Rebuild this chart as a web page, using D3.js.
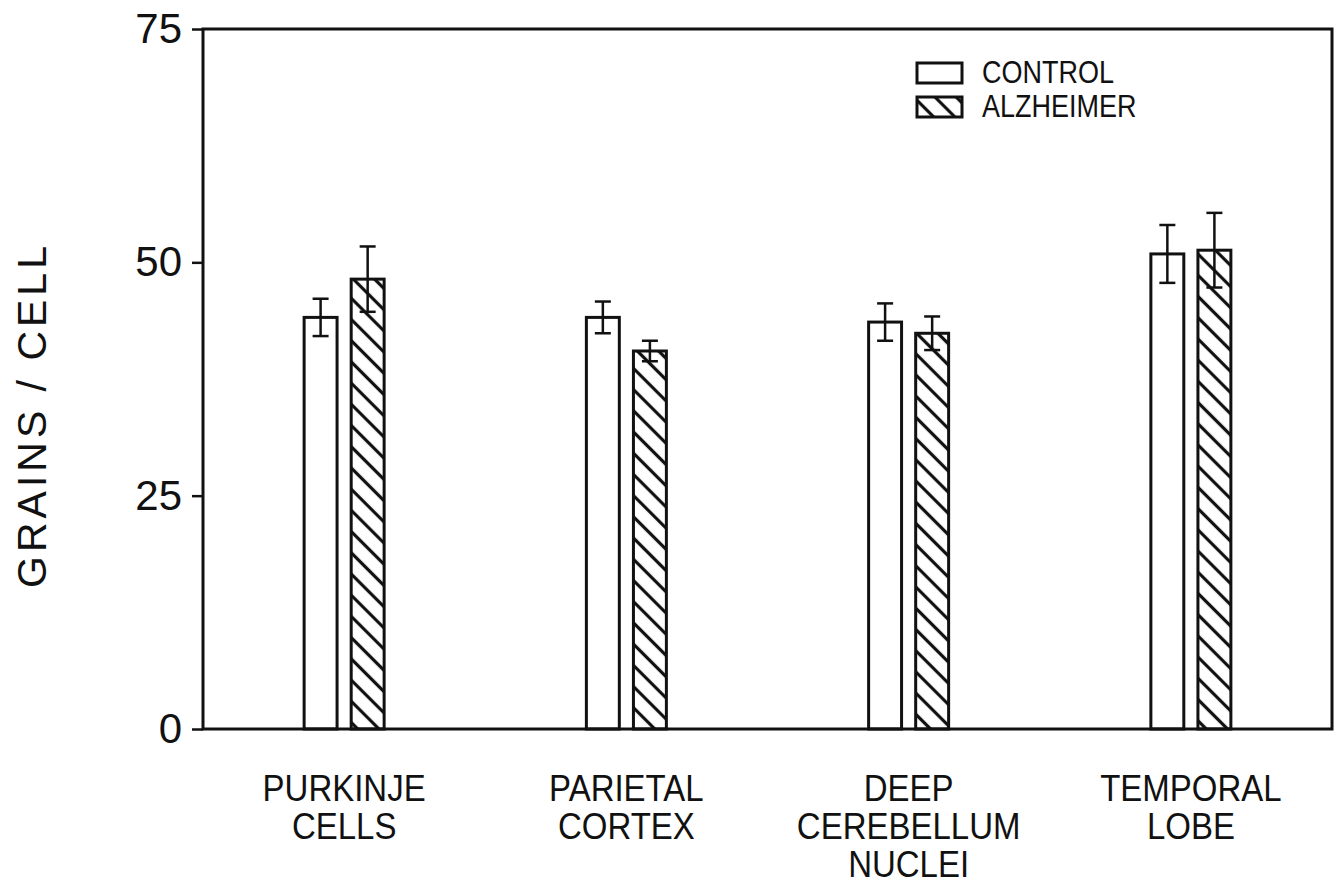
<!DOCTYPE html>
<html>
<head>
<meta charset="utf-8">
<script src="https://cdn.jsdelivr.net/npm/d3@7"></script>
<style>
  html, body { margin: 0; padding: 0; background: #fff; }
  svg { display: block; }
  text { font-family: "Liberation Sans", Arial, Helvetica, sans-serif; fill: #111; }
</style>
</head>
<body>
<svg id="chart" width="1342" height="886"></svg>
<script>
// ---- data ----
const categories = ["PURKINJE CELLS", "PARIETAL CORTEX", "DEEP CEREBELLUM NUCLEI", "TEMPORAL LOBE"];
const categoryLines = [["PURKINJE", "CELLS"], ["PARIETAL", "CORTEX"], ["DEEP", "CEREBELLUM", "NUCLEI"], ["TEMPORAL", "LOBE"]];
const seriesNames = ["CONTROL", "ALZHEIMER"];
const controlValues = [44.1, 44.1, 43.6, 50.9];
const controlErrors = [2.0, 1.7, 2.0, 3.1];
const alzheimerValues = [48.2, 40.5, 42.4, 51.3];
const alzheimerErrors = [3.5, 1.1, 1.8, 4.0];
const yTicks = [0, 25, 50, 75];
const yLabel = "GRAINS / CELL";

// ---- layout ----
const svg = d3.select("#chart");
const mLeft = 203, mRight = 1332, mTop = 29, mBottom = 729;
const ink = "#111";

const x = d3.scaleBand().domain(categories).range([mLeft, mRight]).padding(0);
const sub = d3.scaleBand().domain(seriesNames).range([-40, 40]).paddingInner(0.3).paddingOuter(0);
const y = d3.scaleLinear().domain([0, 75]).range([mBottom, mTop]);

// hatch pattern ("\" direction)
const defs = svg.append("defs");
const pw = 15;
const pat = defs.append("pattern")
  .attr("id", "hatch")
  .attr("patternUnits", "userSpaceOnUse")
  .attr("width", pw).attr("height", pw)
  .attr("patternTransform", "rotate(-45)");
pat.append("rect").attr("width", pw).attr("height", pw).attr("fill", "#fff");
pat.append("line").attr("x1", pw / 2).attr("y1", 0).attr("x2", pw / 2).attr("y2", pw)
  .attr("stroke", ink).attr("stroke-width", 3.2);

const rows = categories.map((c, i) => [
  { cat: c, s: "CONTROL", v: controlValues[i], e: controlErrors[i] },
  { cat: c, s: "ALZHEIMER", v: alzheimerValues[i], e: alzheimerErrors[i] }
]).flat();

// bars
svg.append("g").selectAll("rect").data(rows).join("rect")
  .attr("x", d => x(d.cat) + x.bandwidth() / 2 + sub(d.s))
  .attr("y", d => y(d.v))
  .attr("width", sub.bandwidth())
  .attr("height", d => y(0) - y(d.v))
  .attr("fill", d => d.s === "CONTROL" ? "#fff" : "url(#hatch)")
  .attr("stroke", ink).attr("stroke-width", 3);

// error bars
const eb = svg.append("g").attr("stroke", ink).attr("stroke-width", 2.5);
rows.forEach(d => {
  const cx = x(d.cat) + x.bandwidth() / 2 + sub(d.s) + sub.bandwidth() / 2;
  eb.append("line").attr("x1", cx).attr("x2", cx).attr("y1", y(d.v + d.e)).attr("y2", y(d.v - d.e));
  eb.append("line").attr("x1", cx - 8).attr("x2", cx + 8).attr("y1", y(d.v + d.e)).attr("y2", y(d.v + d.e));
  eb.append("line").attr("x1", cx - 8).attr("x2", cx + 8).attr("y1", y(d.v - d.e)).attr("y2", y(d.v - d.e));
});

// frame
svg.append("rect").attr("x", mLeft).attr("y", mTop).attr("width", mRight - mLeft).attr("height", mBottom - mTop)
  .attr("fill", "none").attr("stroke", ink).attr("stroke-width", 3);

// y axis
const yAxis = svg.append("g").attr("transform", `translate(${mLeft},0)`)
  .call(d3.axisLeft(y).tickValues(yTicks).tickSize(11).tickPadding(10).tickFormat(d3.format("d")));
yAxis.select(".domain").remove();
yAxis.selectAll(".tick line").attr("stroke", ink).attr("stroke-width", 2.5);
yAxis.selectAll(".tick text").style("font-size", "42px").attr("fill", ink)
  .style("font-family", "'Liberation Sans', Arial, sans-serif");

// y label
svg.append("text")
  .attr("transform", "translate(46,415) rotate(-90)")
  .attr("text-anchor", "middle")
  .style("font-size", "41px").style("letter-spacing", "4px")
  .text(yLabel);

// category labels
categories.forEach((c, i) => {
  const cx = x(c) + x.bandwidth() / 2;
  categoryLines[i].forEach((ln, j) => {
    svg.append("g").attr("transform", `translate(${cx},${801 + j * 38}) scale(1,1.12)`)
      .append("text").attr("text-anchor", "middle").style("font-size", "33px").text(ln);
  });
});

// legend
const lg = svg.append("g");
seriesNames.forEach((s, i) => {
  const yy = 63 + i * 34;
  lg.append("rect").attr("x", 917).attr("y", yy).attr("width", 45).attr("height", 20)
    .attr("fill", s === "CONTROL" ? "#fff" : "url(#hatch)")
    .attr("stroke", ink).attr("stroke-width", 3);
  lg.append("g").attr("transform", `translate(982,${yy + 20}) scale(1,1.15)`)
    .append("text").style("font-size", "27px").text(s);
});
</script>
</body>
</html>
